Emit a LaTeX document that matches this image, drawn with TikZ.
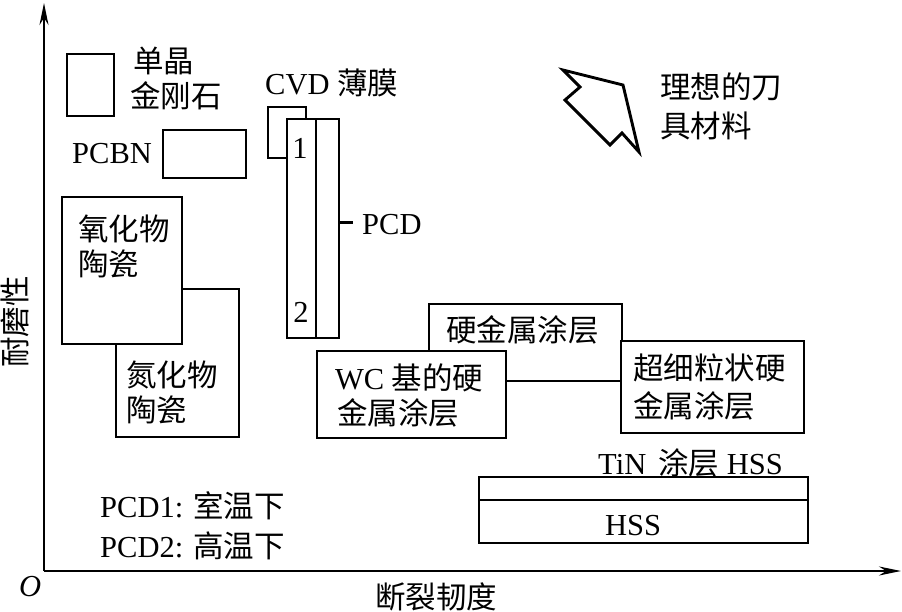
\documentclass[tikz,border=0pt]{standalone}
\usepackage{fontspec}
\setmainfont{Liberation Serif}
\newfontfamily\cjk{Noto Sans CJK SC}
\usetikzlibrary{arrows.meta}
\begin{document}
\begin{tikzpicture}[x=1pt,y=-1pt,
  box/.style={draw, line width=2.9pt, fill=white, inner sep=0pt, outer sep=0pt, anchor=north west},
  txt/.style={inner sep=0pt, anchor=base west, font=\fontsize{30.5}{36}\selectfont},
  ctxt/.style={inner sep=0pt, anchor=base, font=\fontsize{30.5}{36}\selectfont},
  axis/.style={line width=2.2pt, -{Stealth[length=22pt,width=9pt]}}]
\useasboundingbox (0,0) rectangle (902,612);
% axes
\coordinate (O) at (44,571);
\coordinate (xend) at (901,571);
\coordinate (yend) at (44,3);
\draw[axis] (O) -- (xend);
\draw[axis] (O) -- (yend);
% boxes
\node[box, minimum width=47pt, minimum height=62pt] (sc) at (67,54) {};
\node[box, minimum width=83pt, minimum height=48pt] (pcbn) at (163,130) {};
\node[box, minimum width=123pt, minimum height=148pt] (nitride) at (116,289) {};
\node[box, minimum width=120pt, minimum height=147pt] (oxide) at (62,197) {};
\node[box, minimum width=38pt, minimum height=51pt] (cvd) at (268,107) {};
\node[box, minimum width=29pt, minimum height=219pt] (pcdA) at (287,119) {};
\node[box, minimum width=23pt, minimum height=219pt] (pcdB) at (316,119) {};
\node[box, minimum width=193pt, minimum height=77pt] (hard) at (429,304) {};
\node[box, minimum width=189pt, minimum height=87pt] (wc) at (317,351) {};
\node[box, minimum width=183pt, minimum height=92pt] (ultra) at (621,341) {};
\node[box, minimum width=329pt, minimum height=23pt] (tin) at (479,477) {};
\node[box, minimum width=329pt, minimum height=43pt] (hss) at (479,500) {};
% PCD tick
\draw[line width=2.9pt] ([yshift=6pt]pcdB.east) -- ++(14,0) coordinate (pcdtick);
% ideal arrow
\draw[line width=2.9pt, line join=miter] (563,70) -- (623,85) -- (639,152) -- (622,133) -- (610,145) -- (565,100) -- (580,87) -- cycle;
% texts
\node[txt] (t1) at (133,73) {\cjk 单晶};
\node[txt] (t2) at (130,108) {\cjk 金刚石};
\node[txt] (t3) at (72,164) {PCBN};
\node[txt] (t4) at (265,95) {CVD {\cjk 薄膜}};
\node[ctxt] (t5) at (300,159) {1};
\node[ctxt] (t6) at (301,323) {2};
\node[txt] (t7) at (362,235) {PCD};
\node[txt] (t8) at (660,99) {\cjk 理想的刀};
\node[txt] (t9) at (660,138) {\cjk 具材料};
\node[txt] (t10) at (78,241) {\cjk 氧化物};
\node[txt] (t11) at (78,276) {\cjk 陶瓷};
\node[txt] (t12) at (126,386) {\cjk 氮化物};
\node[txt] (t13) at (126,421) {\cjk 陶瓷};
\node[txt] (t14) at (446,341) {\cjk 硬金属涂层};
\node[txt] (t15) at (335,389) {WC {\cjk 基的硬}};
\node[txt] (t16) at (337,424) {\cjk 金属涂层};
\node[txt] (t17) at (633,379) {\cjk 超细粒状硬};
\node[txt] (t18) at (633,417) {\cjk 金属涂层};
\node[txt] (t19) at (598,474) {TiN\hspace{12pt}{\cjk 涂层} HSS};
\node[ctxt] (t20) at (633,535) {HSS};
\node[txt] (t21) at (100,517) {PCD1: {\cjk 室温下}};
\node[txt] (t22) at (100,557) {PCD2: {\cjk 高温下}};
\node[txt] (t23) at (19,596) {\textit{O}};
\node[ctxt] (t24) at (436,608) {\cjk 断裂韧度};
\node[inner sep=0pt, rotate=90, font=\fontsize{30.5}{36}\selectfont\cjk] (t25) at (15,322) {耐磨性};
\end{tikzpicture}
\end{document}
